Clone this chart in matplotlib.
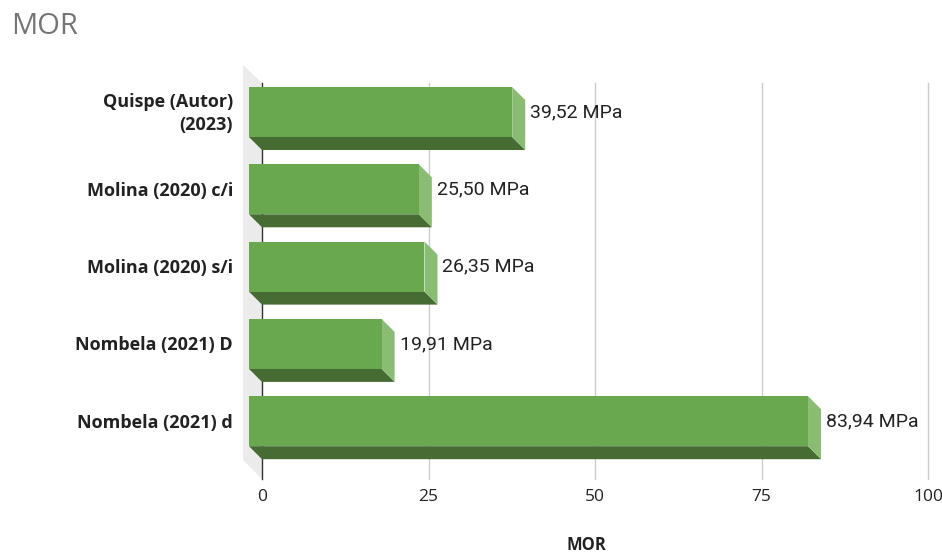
import matplotlib
matplotlib.use("Agg")
import matplotlib.pyplot as plt
from matplotlib.patches import Polygon

categories = ["Quispe (Autor)\n(2023)", "Molina (2020) c/i", "Molina (2020) s/i",
              "Nombela (2021) D", "Nombela (2021) d"]
values = [39.52, 25.50, 26.35, 19.91, 83.94]
value_labels = ["39,52 MPa", "25,50 MPa", "26,35 MPa", "19,91 MPa", "83,94 MPa"]
xticks = [0, 25, 50, 75, 100]

W, H = 942, 554
fig = plt.figure(figsize=(W / 100, H / 100), dpi=100)

# axes: x 0 -> px 262, 100 -> px 928 ; y spans px 83..479
ax_l, ax_r, ax_t, ax_b = 262, 928, 83, 479
ax = fig.add_axes([ax_l / W, 1 - ax_b / H, (ax_r - ax_l) / W, (ax_b - ax_t) / H])
px_per_x = (ax_r - ax_l) / 100.0
px_per_y = 77.3
y0 = 125  # pixel of first category center (back face)
ymin = (ax_t - y0) / px_per_y
ymax = (ax_b - y0) / px_per_y
ax.set_xlim(0, 100)
ax.set_ylim(ymax, ymin)
for s in ax.spines.values():
    s.set_visible(False)
ax.set_xticks([])
ax.set_yticks([])

# wall
wx = (243 - 262) / px_per_x
wall = Polygon([(wx, (65 - y0) / px_per_y), (0, ymin), (0, ymax), (wx, (460 - y0) / px_per_y)],
               closed=True, facecolor="#ebebeb", edgecolor="none", clip_on=False, zorder=0)
ax.add_patch(wall)

# gridlines
for t in xticks[1:]:
    ax.plot([t, t], [ymin, ymax], color="#cccccc", lw=1, zorder=1, clip_on=False)
ax.plot([0, 0], [ymin, ymax], color="#333333", lw=1, zorder=1.5, clip_on=False)

dx = 13 / px_per_x
dy = 13 / px_per_y
h = 25 / px_per_y

front_c = "#6aa84f"
bottom_c = "#466b33"
side_c = "#8abd73"

for i, (v, lab) in enumerate(zip(values, value_labels)):
    top_f = i - h - dy
    bot_f = i + h - dy
    bot_b = i + h
    top_b = i - h
    bottom = Polygon([(-dx, bot_f), (v - dx, bot_f), (v, bot_b), (0, bot_b)], closed=True,
                     facecolor=bottom_c, edgecolor="none", clip_on=False, zorder=3)
    side = Polygon([(v - dx, top_f), (v, top_b), (v, bot_b), (v - dx, bot_f)], closed=True,
                   facecolor=side_c, edgecolor="none", clip_on=False, zorder=3)
    front = Polygon([(-dx, top_f), (v - dx, top_f), (v - dx, bot_f), (-dx, bot_f)], closed=True,
                    facecolor=front_c, edgecolor="none", clip_on=False, zorder=4)
    ax.add_patch(bottom)
    ax.add_patch(side)
    ax.add_patch(front)
    ax.text(v + 5 / px_per_x, i - dy, lab, ha="left", va="center", fontsize=14,
            family="Roboto", color="#222222", zorder=5)
    ax.text(-(262 - 233) / px_per_x, i - dy + 0.02, categories[i], ha="right", va="center",
            fontsize=13, family="Open Sans", fontweight="bold", color="#222222",
            linespacing=1.3, clip_on=False)

for t in xticks:
    ax.text(t, (497 - y0) / px_per_y, str(t), ha="center", va="center", fontsize=12.5,
            family="Open Sans", color="#222222", clip_on=False)

fig.text(586 / W, 1 - 545 / H, "MOR", ha="center", va="center", fontsize=12,
         family="Open Sans", fontweight="bold", color="#222222")
fig.text(11 / W, 1 - 27 / H, "MOR", ha="left", va="center", fontsize=21,
         family="Open Sans", color="#757575")

fig.savefig("out.png", dpi=100)
